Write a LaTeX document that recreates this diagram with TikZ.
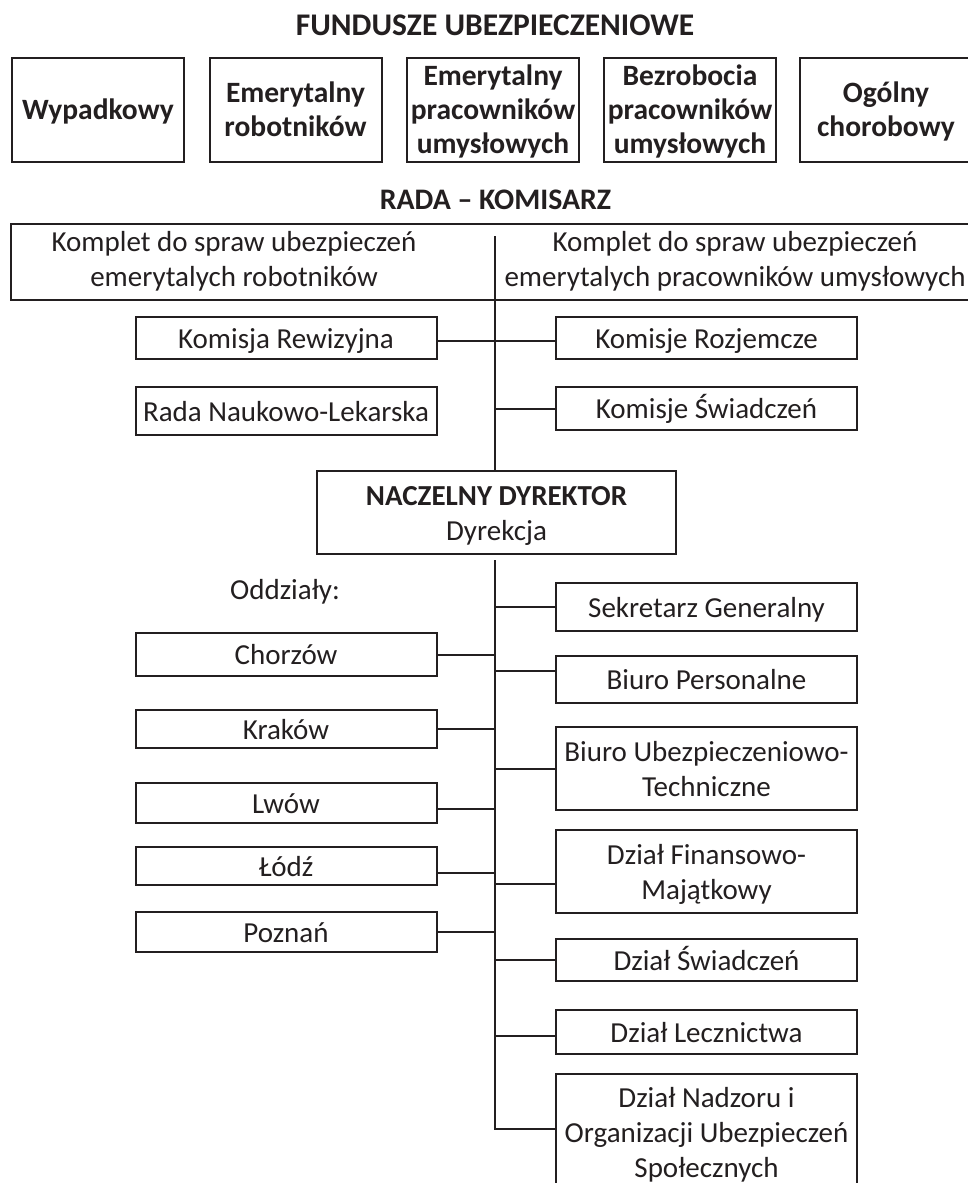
\documentclass[tikz,border=0pt]{standalone}
\usepackage{fontspec}
\setmainfont{Carlito}
\definecolor{ink}{HTML}{231F20}
\newcommand\strutR{\rule[-7.5pt]{0pt}{35pt}}
\newcommand\strutB{\rule[-8pt]{0pt}{34pt}}
\begin{document}
\begin{tikzpicture}[x=1pt,y=-1pt,
  box/.style={draw=ink, line width=2pt, inner sep=0pt, align=center, text=ink, font=\fontsize{29}{35}\selectfont},
  fund/.style={box, minimum width=172pt, minimum height=104pt, font=\fontsize{29.5}{34}\selectfont\bfseries},
  sidebox/.style={box, minimum width=301pt},
  lbl/.style={inner sep=0pt, text=ink, align=center, font=\fontsize{29}{35}\selectfont},
  blbl/.style={lbl, font=\fontsize{29.8}{35}\selectfont\bfseries},
  conn/.style={draw=ink, line width=2pt}]
\useasboundingbox (0,0) rectangle (968,1183);
\clip (0,0) rectangle (968,1183);
\fill[white] (0,0) rectangle (968,1183);

% Fundusze
\node[blbl, anchor=base, font=\fontsize{31.5}{35}\selectfont\bfseries] (title) at (495,35) {FUNDUSZE UBEZPIECZENIOWE};
\node[fund] (f1) at (98,110) {\strutB Wypadkowy};
\node[fund] (f2) at (295.5,110) {\strutB Emerytalny\\\strutB robotników};
\node[fund] (f3) at (493,110) {\strutB Emerytalny\\\strutB pracowników\\\strutB umysłowych};
\node[fund] (f4) at (690,110) {\strutB Bezrobocia\\\strutB pracowników\\\strutB umysłowych};
\node[fund] (f5) at (886,110) {\strutB Ogólny\\\strutB chorobowy};

% Rada - Komisarz
\node[blbl, anchor=base] (rada) at (495.5,209) {RADA – KOMISARZ};
\node[box, minimum width=989pt, minimum height=76pt] (komplet) at (505.5,262) {};
\node[lbl] (kl) at (234,258.5) {\strutR Komplet do spraw ubezpieczeń\\\strutR emerytalych robotników};
\node[lbl] (kr) at (735,258.5) {\strutR Komplet do spraw ubezpieczeń\\\strutR emerytalych pracowników umysłowych};
\coordinate (sptop) at (495,236);

\node[sidebox, minimum height=42pt] (rew) at (286,338) {\strutR Komisja Rewizyjna};
\node[sidebox, minimum height=48pt] (rnl) at (286,411) {\strutR Rada Naukowo-Lekarska};
\node[sidebox, minimum height=42pt] (roz) at (706.5,338) {\strutR Komisje Rozjemcze};
\node[sidebox, minimum height=43pt] (ksw) at (706.5,408.5) {\strutR Komisje Świadczeń};

\node[box, minimum width=359pt, minimum height=83pt] (nacz) at (496.5,512.5) {\strutR\textbf{NACZELNY DYREKTOR}\\\strutR Dyrekcja};

\draw[conn] (sptop) -- (sptop |- nacz.north);
\draw[conn] ([yshift=-3pt]rew.east) -- ([yshift=-3pt]roz.west);
\draw[conn] (sptop |- ksw.west) -- (ksw.west);

% Oddzialy
\coordinate (spbot) at (495,560);
\node[lbl, anchor=base] (odd) at (285,599) {Oddziały:};
\node[sidebox, minimum height=43pt] (chz) at (286,654.5) {\strutR Chorzów};
\node[sidebox, minimum height=38pt] (kra) at (286,729) {\strutR Kraków};
\node[sidebox, minimum height=40pt] (lwo) at (286,803) {\strutR Lwów};
\node[sidebox, minimum height=38pt] (lod) at (286,866) {\strutR Łódź};
\node[sidebox, minimum height=40pt] (poz) at (286,932) {\strutR Poznań};

% Dzialy
\node[sidebox, minimum height=48pt] (sek) at (706.5,607) {\strutR Sekretarz Generalny};
\node[sidebox, minimum height=47pt] (bp) at (706.5,679.5) {\strutR Biuro Personalne};
\node[sidebox, minimum height=83pt] (bu) at (706.5,768.5) {\strutR Biuro Ubezpieczeniowo-\\\strutR Techniczne};
\node[sidebox, minimum height=83pt] (df) at (706.5,871.5) {\strutR Dział Finansowo-\\\strutR Majątkowy};
\node[sidebox, minimum height=42pt] (ds) at (706.5,960) {\strutR Dział Świadczeń};
\node[sidebox, minimum height=44pt] (dl) at (706.5,1032) {\strutR Dział Lecznictwa};
\node[sidebox, minimum height=116pt] (dn) at (706.5,1132) {\strutR Dział Nadzoru i\\\strutR Organizacji Ubezpieczeń\\\strutR Społecznych};

\draw[conn] (spbot) |- ([yshift=3pt]dn.west);
\draw[conn] (spbot |- sek.west) -- (sek.west);
\draw[conn] ([yshift=8.5pt]bp.west -| spbot) -- ([yshift=8.5pt]bp.west);
\draw[conn] (spbot |- bu.west) -- (bu.west);
\draw[conn] ([yshift=-12.5pt]df.west -| spbot) -- ([yshift=-12.5pt]df.west);
\draw[conn] (spbot |- ds.west) -- (ds.west);
\draw[conn] ([yshift=-4pt]dl.west -| spbot) -- ([yshift=-4pt]dl.west);

\draw[conn] (chz.east) -- (chz.east -| spbot);
\draw[conn] (kra.east) -- (kra.east -| spbot);
\draw[conn] ([yshift=-6pt]lwo.east) -- ([yshift=-6pt]lwo.east -| spbot);
\draw[conn] ([yshift=-7pt]lod.east) -- ([yshift=-7pt]lod.east -| spbot);
\draw[conn] (poz.east) -- (poz.east -| spbot);
\end{tikzpicture}
\end{document}
